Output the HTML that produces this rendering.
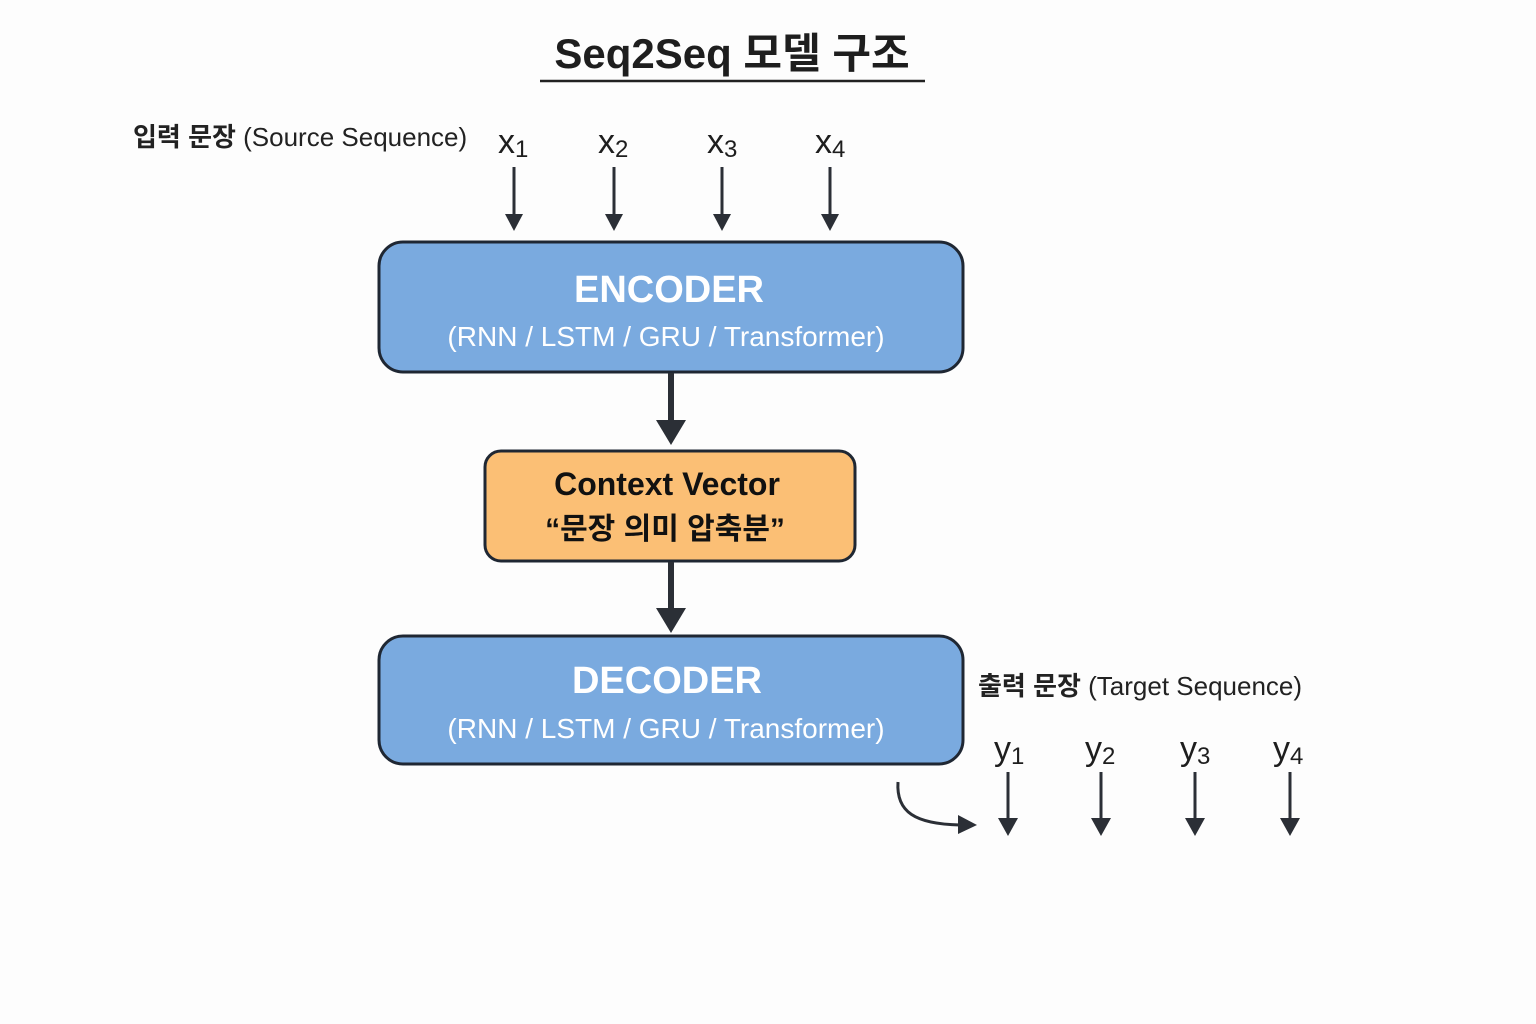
<!DOCTYPE html>
<html><head><meta charset="utf-8"><style>
html,body{margin:0;padding:0;background:#fdfdfd;}
svg{display:block;}
text{font-family:"Liberation Sans","Noto Sans CJK KR",sans-serif;}
</style></head><body>
<svg width="1536" height="1024" viewBox="0 0 1536 1024" xmlns="http://www.w3.org/2000/svg">
<defs>
<marker id="ah" markerWidth="10" markerHeight="10" refX="5" refY="5" orient="auto" markerUnits="userSpaceOnUse"></marker>
</defs>
<rect width="1536" height="1024" fill="#fdfdfd"/>
<text x="732" y="68" font-size="42" font-weight="bold" text-anchor="middle" fill="#1e1e1e">Seq2Seq 모델 구조</text>
<line x1="540" y1="81" x2="925" y2="81" stroke="#222" stroke-width="2.5"/>

<text x="133" y="146" font-size="26" fill="#222"><tspan font-weight="bold">입력 문장</tspan> (Source Sequence)</text>
<g fill="#1e1e1e" font-size="34">
<text x="498" y="153">x<tspan font-size="24" dy="4">1</tspan></text>
<text x="598" y="153">x<tspan font-size="24" dy="4">2</tspan></text>
<text x="707" y="153">x<tspan font-size="24" dy="4">3</tspan></text>
<text x="815" y="153">x<tspan font-size="24" dy="4">4</tspan></text>
</g>
<g stroke="#2b2f36" stroke-width="3" fill="#2b2f36">
<line x1="514" y1="167" x2="514" y2="216"/><polygon points="505,214 523,214 514,231" stroke="none"/>
<line x1="614" y1="167" x2="614" y2="216"/><polygon points="605,214 623,214 614,231" stroke="none"/>
<line x1="722" y1="167" x2="722" y2="216"/><polygon points="713,214 731,214 722,231" stroke="none"/>
<line x1="830" y1="167" x2="830" y2="216"/><polygon points="821,214 839,214 830,231" stroke="none"/>
</g>

<rect x="379" y="242" width="584" height="130" rx="24" fill="#7aaadf" stroke="#1f2733" stroke-width="3"/>
<text x="669" y="302" font-size="38" font-weight="bold" fill="#fff" text-anchor="middle">ENCODER</text>
<text x="666" y="346" font-size="28" fill="#fff" text-anchor="middle">(RNN / LSTM / GRU / Transformer)</text>

<line x1="671" y1="373" x2="671" y2="422" stroke="#2b2f36" stroke-width="6"/>
<polygon points="656,420 686,420 671,445" fill="#2b2f36"/>

<rect x="485" y="451" width="370" height="110" rx="16" fill="#fbbf75" stroke="#1f2733" stroke-width="3"/>
<text x="667" y="495" font-size="32" font-weight="bold" fill="#111" text-anchor="middle">Context Vector</text>
<text x="665" y="539" font-size="30" font-weight="bold" fill="#111" text-anchor="middle">“문장 의미 압축분”</text>

<line x1="671" y1="562" x2="671" y2="610" stroke="#2b2f36" stroke-width="6"/>
<polygon points="656,608 686,608 671,633" fill="#2b2f36"/>

<rect x="379" y="636" width="584" height="128" rx="24" fill="#7aaadf" stroke="#1f2733" stroke-width="3"/>
<text x="667" y="693" font-size="38" font-weight="bold" fill="#fff" text-anchor="middle">DECODER</text>
<text x="666" y="738" font-size="28" fill="#fff" text-anchor="middle">(RNN / LSTM / GRU / Transformer)</text>

<text x="978" y="695" font-size="26" fill="#222"><tspan font-weight="bold">출력 문장</tspan> (Target Sequence)</text>
<g fill="#1e1e1e" font-size="34">
<text x="994" y="760">y<tspan font-size="24" dy="4">1</tspan></text>
<text x="1085" y="760">y<tspan font-size="24" dy="4">2</tspan></text>
<text x="1180" y="760">y<tspan font-size="24" dy="4">3</tspan></text>
<text x="1273" y="760">y<tspan font-size="24" dy="4">4</tspan></text>
</g>
<g stroke="#2b2f36" stroke-width="3" fill="#2b2f36">
<line x1="1008" y1="772" x2="1008" y2="820"/><polygon points="998,818 1018,818 1008,836" stroke="none"/>
<line x1="1101" y1="772" x2="1101" y2="820"/><polygon points="1091,818 1111,818 1101,836" stroke="none"/>
<line x1="1195" y1="772" x2="1195" y2="820"/><polygon points="1185,818 1205,818 1195,836" stroke="none"/>
<line x1="1290" y1="772" x2="1290" y2="820"/><polygon points="1280,818 1300,818 1290,836" stroke="none"/>
<path d="M898,782 C896,812 915,824 960,825" fill="none"/>
<polygon points="958,815 977,825 958,834" stroke="none"/>
</g>
</svg>
</body></html>
